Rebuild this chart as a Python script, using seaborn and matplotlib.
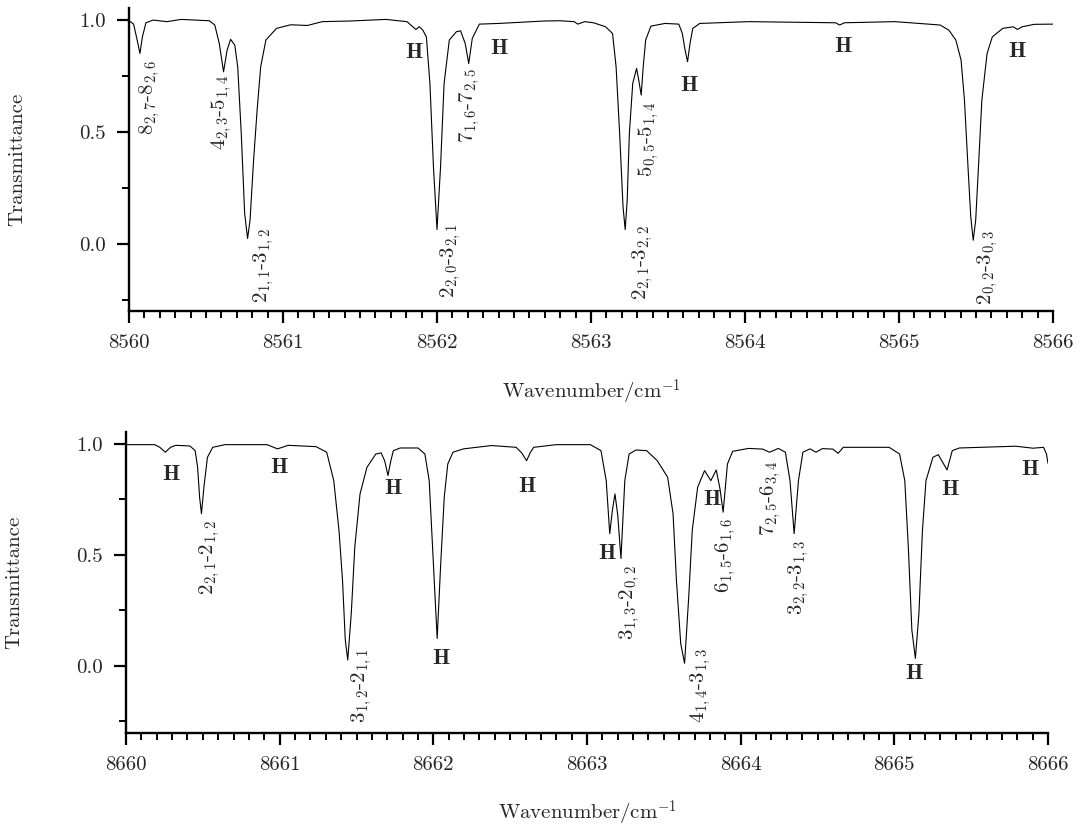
import matplotlib
matplotlib.use('Agg')
import matplotlib.pyplot as plt
import seaborn as sns
from matplotlib.ticker import MultipleLocator, FormatStrFormatter

# ---- spectrum, upper panel (8560-8566 cm-1) ----
top_wn = [8560.000, 8560.030, 8560.053, 8560.071, 8560.087, 8560.110, 8560.156, 8560.247,
          8560.339, 8560.522, 8560.557, 8560.586, 8560.614, 8560.637, 8560.660, 8560.687,
          8560.706, 8560.729, 8560.751, 8560.770, 8560.786, 8560.809, 8560.832, 8560.855,
          8560.889, 8560.958, 8561.049, 8561.159, 8561.255, 8561.439, 8561.668, 8561.805,
          8561.863, 8561.885, 8561.908, 8561.931, 8561.954, 8561.977, 8562.000, 8562.023,
          8562.046, 8562.080, 8562.126, 8562.153, 8562.183, 8562.206, 8562.229, 8562.275,
          8562.401, 8562.699, 8562.801, 8562.891, 8562.914, 8562.959, 8563.016, 8563.095,
          8563.140, 8563.163, 8563.186, 8563.208, 8563.222, 8563.235, 8563.249, 8563.271,
          8563.296, 8563.310, 8563.326, 8563.339, 8563.355, 8563.389, 8563.480, 8563.570,
          8563.593, 8563.611, 8563.627, 8563.643, 8563.661, 8563.706, 8564.023, 8564.588,
          8564.615, 8564.645, 8564.973, 8565.267, 8565.324, 8565.369, 8565.403, 8565.425,
          8565.448, 8565.466, 8565.482, 8565.498, 8565.516, 8565.538, 8565.572, 8565.606,
          8565.674, 8565.742, 8565.769, 8565.799, 8565.878, 8566.000]
top_T = [0.997, 0.982, 0.911, 0.851, 0.925, 0.988, 1.000, 0.993,
         1.003, 0.997, 0.978, 0.896, 0.769, 0.866, 0.914, 0.888,
         0.791, 0.493, 0.136, 0.024, 0.106, 0.374, 0.598, 0.791,
         0.911, 0.963, 0.979, 0.976, 0.993, 0.996, 1.003, 0.993,
         0.958, 0.970, 0.955, 0.925, 0.717, 0.344, 0.064, 0.344,
         0.717, 0.911, 0.948, 0.952, 0.896, 0.806, 0.918, 0.982,
         0.985, 0.996, 0.997, 0.993, 0.982, 0.993, 0.988, 0.970,
         0.940, 0.791, 0.493, 0.165, 0.064, 0.195, 0.493, 0.717,
         0.784, 0.732, 0.665, 0.791, 0.911, 0.973, 0.985, 0.982,
         0.940, 0.866, 0.814, 0.896, 0.963, 0.985, 0.993, 0.988,
         0.978, 0.988, 0.993, 0.978, 0.955, 0.911, 0.821, 0.642,
         0.344, 0.121, 0.016, 0.106, 0.344, 0.642, 0.851, 0.925,
         0.963, 0.970, 0.958, 0.970, 0.981, 0.982]

# ---- lower panel (8660-8666 cm-1) ----
bot_wn = [8660.000, 8660.187, 8660.220, 8660.256, 8660.290, 8660.324, 8660.416, 8660.450,
          8660.466, 8660.479, 8660.491, 8660.507, 8660.530, 8660.564, 8660.644, 8660.918,
          8660.986, 8661.055, 8661.237, 8661.306, 8661.352, 8661.386, 8661.409, 8661.427,
          8661.443, 8661.466, 8661.489, 8661.523, 8661.568, 8661.626, 8661.660, 8661.683,
          8661.705, 8661.722, 8661.740, 8661.785, 8661.900, 8661.945, 8661.973, 8661.995,
          8662.012, 8662.025, 8662.048, 8662.071, 8662.094, 8662.128, 8662.196, 8662.379,
          8662.539, 8662.575, 8662.607, 8662.630, 8662.653, 8662.800, 8663.022, 8663.091,
          8663.125, 8663.148, 8663.165, 8663.182, 8663.200, 8663.221, 8663.246, 8663.274,
          8663.319, 8663.388, 8663.457, 8663.525, 8663.560, 8663.582, 8663.610, 8663.635,
          8663.662, 8663.685, 8663.720, 8663.765, 8663.806, 8663.841, 8663.865, 8663.886,
          8663.914, 8663.948, 8664.051, 8664.143, 8664.188, 8664.245, 8664.291, 8664.321,
          8664.348, 8664.376, 8664.405, 8664.451, 8664.490, 8664.531, 8664.600, 8664.634,
          8664.668, 8664.966, 8665.034, 8665.068, 8665.091, 8665.114, 8665.137, 8665.160,
          8665.183, 8665.206, 8665.251, 8665.286, 8665.343, 8665.377, 8665.423, 8665.789,
          8665.903, 8665.971, 8665.990, 8666.000]
bot_T = [0.997, 0.997, 0.985, 0.963, 0.985, 0.994, 0.991, 0.970,
         0.895, 0.760, 0.686, 0.805, 0.940, 0.985, 0.997, 0.997,
         0.978, 0.994, 0.988, 0.963, 0.835, 0.611, 0.386, 0.117,
         0.027, 0.237, 0.536, 0.775, 0.895, 0.955, 0.960, 0.925,
         0.858, 0.920, 0.970, 0.982, 0.982, 0.955, 0.835, 0.536,
         0.300, 0.124, 0.461, 0.760, 0.910, 0.963, 0.978, 0.993,
         0.985, 0.960, 0.925, 0.960, 0.985, 0.997, 0.997, 0.970,
         0.835, 0.596, 0.700, 0.775, 0.680, 0.484, 0.835, 0.955,
         0.973, 0.970, 0.925, 0.850, 0.686, 0.386, 0.100, 0.012,
         0.311, 0.611, 0.805, 0.880, 0.835, 0.883, 0.800, 0.693,
         0.910, 0.967, 0.980, 0.977, 0.963, 0.980, 0.963, 0.835,
         0.596, 0.835, 0.963, 0.978, 0.963, 0.979, 0.977, 0.958,
         0.985, 0.985, 0.955, 0.835, 0.536, 0.162, 0.034, 0.237,
         0.611, 0.835, 0.940, 0.952, 0.883, 0.970, 0.982, 0.990,
         0.981, 0.985, 0.955, 0.913]

# ---- assignments (rotated labels, anchored at their top) ----
top_lab = [r'8$_{2,7}$-8$_{2,6}$', r'4$_{2,3}$-5$_{1,4}$', r'2$_{1,1}$-3$_{1,2}$',
           r'2$_{2,0}$-3$_{2,1}$', r'7$_{1,6}$-7$_{2,5}$', r'2$_{2,1}$-3$_{2,2}$',
           r'5$_{0,5}$-5$_{1,4}$', r'2$_{0,2}$-3$_{0,3}$']
top_lab_x = [8560.133, 8560.603, 8560.871, 8562.085, 8562.213, 8563.333, 8563.371, 8565.572]
top_lab_y = [0.821, 0.754, 0.069, 0.091, 0.784, 0.083, 0.635, 0.061]
top_h_x = [8561.851, 8562.401, 8563.638, 8564.633, 8565.769]
top_h_y = [0.854, 0.873, 0.709, 0.881, 0.858]

bot_lab = [r'2$_{2,1}$-2$_{1,2}$', r'3$_{1,2}$-2$_{1,1}$', r'3$_{1,3}$-2$_{0,2}$',
           r'4$_{1,4}$-3$_{1,3}$', r'6$_{1,5}$-6$_{1,6}$', r'7$_{2,5}$-6$_{3,4}$',
           r'3$_{2,2}$-3$_{1,3}$']
bot_lab_x = [8660.541, 8661.534, 8663.279, 8663.742, 8663.902, 8664.195, 8664.376]
bot_lab_y = [0.656, 0.079, 0.454, 0.079, 0.663, 0.925, 0.566]
bot_h_x = [8660.295, 8660.993, 8661.735, 8662.048, 8662.607, 8663.132, 8663.811,
           8665.130, 8665.359, 8665.885]
bot_h_y = [0.862, 0.892, 0.798, 0.034, 0.808, 0.506, 0.749, -0.033, 0.793, 0.883]

sns.set_style('ticks')
plt.rcParams['font.family'] = ['cmr10', 'DejaVu Serif']
plt.rcParams['mathtext.fontset'] = 'cm'
plt.rcParams['axes.unicode_minus'] = False
plt.rcParams['axes.formatter.use_mathtext'] = True

fig = plt.figure(figsize=(10.85, 8.27), dpi=100)
W, Hpx = 1085, 827
ax1 = fig.add_axes([129 / W, 1 - 311 / Hpx, 924 / W, 303 / Hpx])
ax2 = fig.add_axes([126 / W, 1 - 733 / Hpx, 922 / W, 301 / Hpx])

panels = [
    (ax1, top_wn, top_T, 8560, top_lab, top_lab_x, top_lab_y, top_h_x, top_h_y, -0.300),
    (ax2, bot_wn, bot_T, 8660, bot_lab, bot_lab_x, bot_lab_y, bot_h_x, bot_h_y, -0.302),
]

for ax, wn, tr, x0, lab, lx, ly, hx, hy, ymin in panels:
    sns.lineplot(x=wn, y=tr, ax=ax, color='black', linewidth=0.8, estimator=None)
    ax.set_xlim(x0, x0 + 6)
    ax.set_ylim(ymin, 1.054)
    sns.despine(ax=ax)
    for side in ['left', 'bottom']:
        ax.spines[side].set_linewidth(1.7)
        ax.spines[side].set_color('black')
    ax.xaxis.set_major_locator(MultipleLocator(1))
    ax.xaxis.set_minor_locator(MultipleLocator(0.1))
    ax.xaxis.set_major_formatter(FormatStrFormatter('%d'))
    ax.set_yticks([0.0, 0.5, 1.0])
    ax.set_yticks([-0.25, 0.25, 0.75], minor=True)
    ax.yaxis.set_major_formatter(FormatStrFormatter('%.1f'))
    ax.tick_params(which='major', direction='out', length=8.6, width=1.6,
                   color='black', labelsize=15, pad=8)
    ax.tick_params(which='minor', direction='out', length=5, width=1.4, color='black')
    ax.set_xlabel(r'Wavenumber/cm$^{-1}$', fontsize=15)
    ax.set_ylabel('Transmittance', fontsize=15)
    ax.yaxis.set_label_coords(-0.111, 0.5)
    ax.xaxis.set_label_coords(0.5, -0.22)

    for s, x, y in zip(lab, lx, ly):
        ax.text(x, y, s, rotation=90, ha='center', va='top', fontsize=15)
    for x, y in zip(hx, hy):
        ax.text(x, y, 'H', ha='center', va='center', fontsize=16,
                family=['cmb10', 'DejaVu Serif'])

fig.savefig('out.png', dpi=100, facecolor='white')
